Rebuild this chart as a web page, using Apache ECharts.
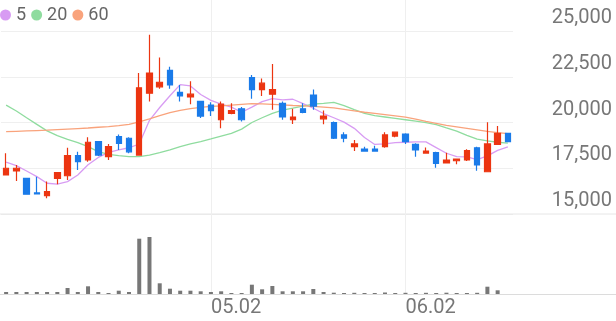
<!DOCTYPE html>
<html>
<head>
<meta charset="utf-8">
<script src="https://cdn.jsdelivr.net/npm/echarts@6/dist/echarts.min.js"></script>
<style>
html,body{margin:0;padding:0;background:#fff;}
#chart{width:616px;height:321px;}
</style>
</head>
<body>
<div id="chart"></div>
<script>
const dates = [
'2025-04-03','2025-04-04','2025-04-07','2025-04-08','2025-04-09','2025-04-10','2025-04-11',
'2025-04-14','2025-04-15','2025-04-16','2025-04-17','2025-04-18','2025-04-21','2025-04-22',
'2025-04-23','2025-04-24','2025-04-25','2025-04-28','2025-04-29','2025-04-30',
'2025-05-02','2025-05-07','2025-05-08','2025-05-09','2025-05-12','2025-05-13','2025-05-14',
'2025-05-15','2025-05-16','2025-05-19','2025-05-20','2025-05-21','2025-05-22','2025-05-23',
'2025-05-26','2025-05-27','2025-05-28','2025-05-29','2025-05-30',
'2025-06-02','2025-06-04','2025-06-05','2025-06-09','2025-06-10','2025-06-11','2025-06-12',
'2025-06-13','2025-06-16','2025-06-17','2025-06-18'];
const labelDates = ['2025-05-02','2025-06-02'];
const opens  = [17130,17350,16950,16150,16000,16950,17090,18190,17950,18950,18130,19230,19140,18220,21600,21950,22850,21650,21400,21150,20950,20150,20500,20750,22450,21800,21550,21050,20150,20750,21500,20200,20000,19320,18680,18550,18550,18680,19260,19370,18810,18330,18350,17790,17910,17950,18620,17310,18810,19410];
const closes = [17500,17500,16080,16100,16220,17260,18190,17860,18920,18220,18680,18860,18400,21900,22700,22200,22050,21450,21550,20350,20650,21000,20650,20150,21800,22150,21800,20300,20300,20550,20900,20350,19140,19140,18830,18440,18440,19320,19470,18950,18500,18440,17770,17950,18000,18460,17680,18830,19410,18950];
const lows   = [17100,16800,16050,16100,15860,16620,16860,17400,17860,18170,17950,18500,18320,18190,21150,21850,21850,21150,21000,20250,20350,19680,20450,20050,21300,21450,20700,20150,19920,20500,20700,19900,19100,18920,18440,18440,18440,18620,19190,18830,18130,18330,17530,17790,17720,17900,17370,17280,18770,18950];
const highs  = [18320,17680,16950,17040,16770,17260,18620,18400,19190,18950,18830,19350,19200,22700,24800,23550,23050,22050,22250,21150,21100,21150,21050,20850,22600,22400,23200,21150,20750,21050,21800,20650,20050,19470,19040,18680,18730,19470,19500,19410,18860,18640,18400,18350,18010,18540,18680,20010,19810,19410];
const volumes = [20,20,20,20,20,20,60,20,77,20,10,33,20,553,570,107,53,33,33,27,20,27,10,10,93,47,80,27,27,27,50,20,13,10,12,10,10,15,10,12,10,12,10,13,10,10,12,73,37,0];
const ma5  = [17840,17640,17350,17040,16680,16630,16770,17130,17690,18090,18370,18510,18620,18820,20120,20820,21460,22070,22000,21530,21210,21000,20840,20560,20840,21140,21310,21240,21270,21030,20780,20490,20260,20020,19680,19180,18800,18830,18900,18920,18940,18940,18630,18320,18130,18120,17970,18180,18480,18670];
const ma20 = [20950,20630,20260,19900,19540,19280,19080,18900,18680,18410,18260,18190,18130,18130,18220,18350,18500,18680,18830,18950,19100,19260,19410,19640,20000,20260,20500,20680,20780,20900,21010,21050,21100,20920,20700,20500,20370,20300,20230,20150,20070,19990,19880,19700,19530,19300,19090,19000,18920,18870];
const ma60 = [19500,19520,19540,19560,19580,19610,19640,19670,19700,19740,19780,19830,19900,20040,20200,20380,20540,20660,20760,20830,20880,20910,20950,20990,21030,21020,20990,20960,20930,20910,20880,20840,20800,20720,20640,20560,20500,20430,20360,20290,20180,20060,19950,19840,19760,19680,19600,19520,19450,19390];

const candleData = opens.map((o, i) => [o, closes[i], lows[i], highs[i]]);
const FONT = 'Roboto';
const chart = echarts.init(document.getElementById('chart'), null, {renderer: 'canvas'});
const option = {
  animation: false,
  backgroundColor: '#fff',
  legend: {
    data: ['5', '20', '60'],
    left: 0, top: 6, padding: 0,
    icon: 'circle', itemWidth: 11, itemHeight: 11, itemGap: 5,
    textStyle: {color: '#666', fontSize: 18, fontFamily: FONT}
  },
  grid: [
    {left: 1, right: 103, top: 31, bottom: 107},
    {left: 1, right: 103, top: 230, bottom: 27}
  ],
  xAxis: [
    {type: 'category', gridIndex: 0, data: dates, boundaryGap: true,
     axisLine: {show: false}, axisTick: {show: false}, axisLabel: {show: false}, splitLine: {show: false}},
    {type: 'category', gridIndex: 1, data: dates, boundaryGap: true,
     axisLine: {show: false}, axisTick: {show: false}, splitLine: {show: false},
     axisLabel: {
       show: true, margin: 4, align: 'left', color: '#777', fontSize: 20, fontFamily: FONT,
       interval: (idx, val) => labelDates.indexOf(val) >= 0,
       formatter: v => v.slice(5).replace('-', '.')
     }}
  ],
  yAxis: [
    {type: 'value', gridIndex: 0, position: 'right', min: 15000, max: 25000, interval: 2500,
     axisLine: {show: false}, axisTick: {show: false},
     splitLine: {lineStyle: {color: '#efefef', width: 1}},
     axisLabel: {margin: 99, align: 'right', verticalAlign: 'bottom', padding: [0, 0, 3, 0],
       color: '#777', fontSize: 20, fontFamily: FONT,
       formatter: v => v.toLocaleString('en-US')}},
    {type: 'value', gridIndex: 1, min: 0, max: 640, show: false, splitLine: {show: false}}
  ],
  series: [
    {name: '5', type: 'line', xAxisIndex: 0, yAxisIndex: 0, data: ma5, symbol: 'none', z: 2,
     lineStyle: {color: '#d89cf3', width: 1.3}, itemStyle: {color: '#d89cf3'}},
    {name: '20', type: 'line', xAxisIndex: 0, yAxisIndex: 0, data: ma20, symbol: 'none', z: 2,
     lineStyle: {color: '#8fdc9f', width: 1.3}, itemStyle: {color: '#8fdc9f'}},
    {name: '60', type: 'line', xAxisIndex: 0, yAxisIndex: 0, data: ma60, symbol: 'none', z: 2,
     lineStyle: {color: '#f9a37c', width: 1.3}, itemStyle: {color: '#f9a37c'}},
    {name: 'price', type: 'candlestick', xAxisIndex: 0, yAxisIndex: 0, data: candleData, barWidth: 6, z: 3,
     itemStyle: {color: '#ec3511', color0: '#1a7be9', borderColor: '#ec3511', borderColor0: '#1a7be9', borderWidth: 1.2}},
    {name: 'volume', type: 'bar', xAxisIndex: 1, yAxisIndex: 1, data: volumes, barWidth: 4,
     itemStyle: {color: '#777'}}
  ]
};
chart.setOption(option);

const yBottom = chart.convertToPixel({yAxisIndex: 0}, 15000);
const volBase = chart.convertToPixel({yAxisIndex: 1}, 0);
const W = chart.getWidth();
const elements = [
  {type: 'line', z: 0, silent: true, shape: {x1: 0, y1: yBottom, x2: W, y2: yBottom}, style: {stroke: '#e6e6e6', lineWidth: 1}},
  {type: 'line', z: 0, silent: true, shape: {x1: 0, y1: volBase + 0.5, x2: W, y2: volBase + 0.5}, style: {stroke: '#dcdcdc', lineWidth: 1}}
];
labelDates.forEach(d => {
  const x = Math.round(chart.convertToPixel({xAxisIndex: 0}, d)) + 0.5;
  elements.push({type: 'line', z: 0, silent: true, shape: {x1: x, y1: 0, x2: x, y2: volBase}, style: {stroke: '#efefef', lineWidth: 1}});
});
chart.setOption({graphic: {elements: elements}});
</script>
</body>
</html>
